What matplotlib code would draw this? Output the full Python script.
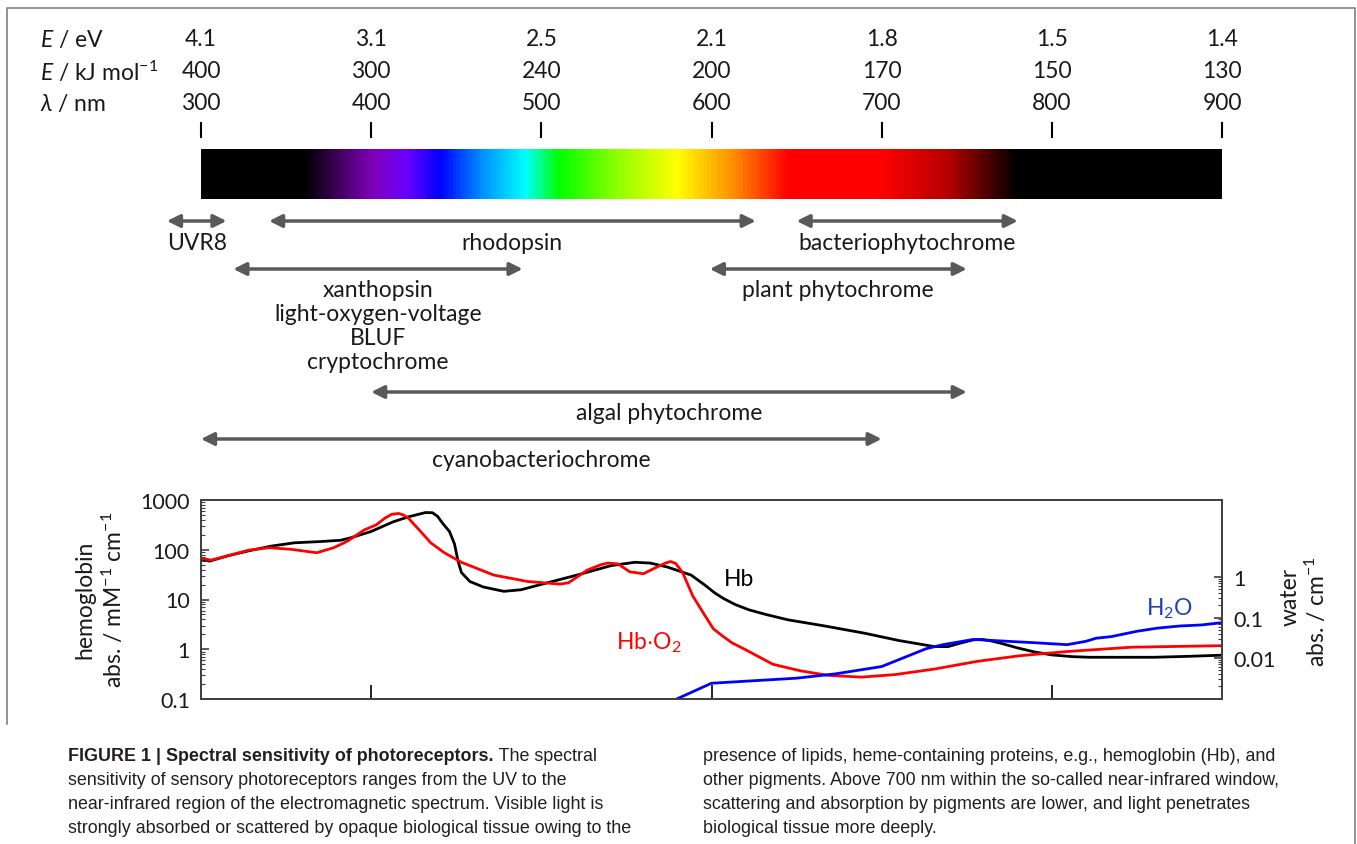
import numpy as np
import matplotlib
matplotlib.use("Agg")
import matplotlib.pyplot as plt
from matplotlib.colors import LinearSegmentedColormap
from matplotlib.ticker import FixedLocator, NullFormatter, FixedFormatter

plt.rcParams['font.family'] = ['Lato', 'DejaVu Sans']
plt.rcParams['mathtext.fontset'] = 'custom'
plt.rcParams['mathtext.rm'] = 'Lato'
plt.rcParams['mathtext.it'] = 'Lato:italic'
plt.rcParams['mathtext.bf'] = 'Lato:bold'

# energy / wavelength scale
scale_nm = [300, 400, 500, 600, 700, 800, 900]
scale_ev = ['4.1', '3.1', '2.5', '2.1', '1.8', '1.5', '1.4']
scale_kj = ['400', '300', '240', '200', '170', '150', '130']

# photoreceptor ranges (nm)
photo_names = ['UVR8', 'rhodopsin', 'bacteriophytochrome',
               'xanthopsin\nlight-oxygen-voltage\nBLUF\ncryptochrome',
               'plant phytochrome', 'algal phytochrome', 'cyanobacteriochrome']
photo_lo = [280, 340, 650, 319, 599, 400, 300]
photo_hi = [315, 626, 780, 489, 750, 750, 700]
photo_row = [222, 222, 222, 270, 270, 393, 440]

# spectrum colour stops
spec_nm = [300, 360, 400, 420, 440, 465, 490, 510, 545, 580, 612, 645, 700, 740, 780, 900]
spec_col = ['#000000', '#000000', '#8000b8', '#6a00ff', '#0000ff', '#0092ff', '#00ffff',
            '#00ff00', '#92ff00', '#ffff00', '#ff9200', '#ff0000', '#ff0000', '#b50000',
            '#000000', '#000000']

# deoxyhemoglobin, mM-1 cm-1
hb_nm = [300, 305, 316, 328, 341, 355, 370, 382, 388, 400, 413, 422, 432, 436, 439, 442,
         446, 449, 451, 453, 458, 466, 478, 488, 502, 521, 541, 555, 564, 574, 588, 596,
         602, 607, 614, 622, 632, 645, 665, 690, 710, 731, 739, 747, 754, 759, 764, 770,
         780, 790, 800, 812, 822, 840, 860, 880, 900]
hb = [65, 59, 76, 95, 118, 138, 146, 155, 174, 233, 365, 460, 560, 555, 470, 340,
      233, 130, 60, 35, 23, 17.8, 14.6, 15.7, 21, 31, 48, 56, 54, 45, 31, 19.6,
      13.5, 10.5, 7.9, 6.2, 5.0, 3.9, 3.0, 2.1, 1.5, 1.13, 1.13, 1.35, 1.55, 1.57, 1.48, 1.32,
      1.06, 0.88, 0.77, 0.71, 0.69, 0.69, 0.69, 0.72, 0.76]

# oxyhemoglobin, mM-1 cm-1
hbo2_nm = [300, 306, 316, 328, 340, 353, 368, 378, 386, 396, 403, 408, 412, 416, 419, 422,
           429, 435, 443, 453, 472, 492, 511, 516, 527, 535, 539, 545, 552, 560, 568, 573,
           576, 579, 583, 589, 595, 601, 606, 612, 620, 628, 636, 652, 668, 688, 708, 731,
           756, 781, 809, 847, 900]
hbo2 = [67, 62, 76, 98, 110, 102, 87, 110, 148, 251, 316, 430, 515, 537, 500, 427,
        234, 138, 87, 56, 31, 23, 20.4, 21.7, 39, 50, 54, 52, 36, 33, 45, 54,
        58, 53, 35, 11.8, 5.5, 2.6, 1.9, 1.35, 0.98, 0.7, 0.5, 0.37, 0.30, 0.275, 0.31, 0.40,
        0.57, 0.74, 0.90, 1.10, 1.18]

# water, cm-1
h2o_nm = [580, 600, 650, 673, 700, 726, 736, 754, 774, 790, 809, 820, 826, 835, 850, 862, 875, 888, 900]
h2o = [0.0010, 0.0024, 0.0032, 0.0041, 0.0062, 0.017, 0.0215, 0.029, 0.026, 0.024, 0.0215,
       0.026, 0.031, 0.034, 0.046, 0.055, 0.062, 0.066, 0.075]

nir_lo, nir_hi = 721, 900

W, H = 1357, 845
fig = plt.figure(figsize=(W / 100, H / 100), dpi=100)
bg = fig.add_axes([0, 0, 1, 1])
bg.set_xlim(0, W)
bg.set_ylim(H, 0)
bg.axis('off')


def nm2px(nm):
    return 201 + (np.asarray(nm, dtype=float) - 300) * 1021 / 600


# frame of the figure panel
bg.plot([7, 7, 1355, 1355], [725, 9, 9, H], color='#7f7f7f', lw=1.2)

fs = 16.5
tc = '#1a1a1a'
# scale rows
bg.text(40, 40, '$E$ / eV', fontsize=fs, va='center', color=tc)
bg.text(40, 72, '$E$ / kJ mol$^{-1}$', fontsize=fs, va='center', color=tc)
bg.text(40, 104, r'$\lambda$ / nm', fontsize=fs, va='center', color=tc)
for nm, ev, kj in zip(scale_nm, scale_ev, scale_kj):
    x = nm2px(nm)
    bg.text(x, 40, ev, fontsize=fs, ha='center', va='center', color=tc)
    bg.text(x, 72, kj, fontsize=fs, ha='center', va='center', color=tc)
    bg.text(x, 104, str(nm), fontsize=fs, ha='center', va='center', color=tc)
    bg.plot([x, x], [124, 138], color='black', lw=1.5)

# spectrum bar
pos = [(n - 300) / 600 for n in spec_nm]
cmap = LinearSegmentedColormap.from_list('spec', list(zip(pos, spec_col)))
grad = np.linspace(0, 1, 1200)[None, :]
bg.imshow(grad, cmap=cmap, extent=(nm2px(300), nm2px(900), 200, 150), aspect='auto')

# photoreceptor ranges
ac = '#595959'
for name, lo, hi, y in zip(photo_names, photo_lo, photo_hi, photo_row):
    bg.annotate('', xy=(nm2px(hi), y), xytext=(nm2px(lo), y),
                arrowprops=dict(arrowstyle='<|-|>', color=ac, lw=2.5,
                                mutation_scale=19, shrinkA=0, shrinkB=0))
    xm = (nm2px(lo) + nm2px(hi)) / 2
    for i, line in enumerate(name.split('\n')):
        bg.text(xm, y + 21 + 24 * i, line, fontsize=fs, ha='center', va='center', color=tc)

# absorption plot
ax = fig.add_axes([201 / W, (H - 700) / H, 1021 / W, 199 / H])
ax.set_yscale('log')
ax.set_xlim(300, 900)
ax.set_ylim(0.1, 1000)
ax.plot(hb_nm, hb, color='black', lw=2)
ax.plot(hbo2_nm, hbo2, color='#ff0000', lw=2)

ax2 = ax.twinx()
ax2.set_yscale('log')
ax2.set_ylim(0.00098, 80)
ax2.plot(h2o_nm, h2o, color='#0000ff', lw=2)

sc = '#404040'
for a in (ax, ax2):
    for s in a.spines.values():
        s.set_color(sc)
        s.set_linewidth(1.3)
ax.set_xticks([400, 600, 800])
ax.set_xticklabels([])
ax.tick_params(axis='x', direction='in', length=10, width=1.2, color='black')
ax.set_yticks([0.1, 1, 10, 100, 1000])
ax.set_yticklabels(['0.1', '1', '10', '100', '1000'])
ax.tick_params(axis='y', which='major', direction='in', length=6, width=1.2,
               color=sc, labelsize=15.5, pad=8, labelcolor=tc)
ax.tick_params(axis='y', which='minor', direction='in', length=3, width=0.8, color=sc)

ax2.yaxis.set_major_locator(FixedLocator([0.001, 0.01, 0.1, 1]))
ax2.yaxis.set_major_formatter(FixedFormatter(['', '0.01', '0.1', '1']))
minor = [k * 10.0 ** e for e in (-3, -2, -1) for k in range(2, 10)]
ax2.yaxis.set_minor_locator(FixedLocator(minor))
ax2.yaxis.set_minor_formatter(NullFormatter())
ax2.tick_params(axis='y', which='major', direction='in', length=6, width=1.2,
                color=sc, labelsize=15.5, pad=8, labelcolor=tc)
ax2.tick_params(axis='y', which='minor', direction='in', length=3, width=0.8, color=sc)

# curve labels
ax.text(616, 26, 'Hb', fontsize=fs, ha='center', va='center', color='black')
ax.text(563, 1.4, r'Hb$\cdot$O$_2$', fontsize=fs, ha='center', va='center', color='#ff0000')
ax.text(869, 6.8, 'H$_2$O', fontsize=fs, ha='center', va='center', color='#1f3fbf')

# near-IR window
bg.annotate('', xy=(nm2px(nir_hi), 512), xytext=(nm2px(nir_lo), 512),
            arrowprops=dict(arrowstyle='<|-|>', color=ac, lw=2.5,
                            mutation_scale=19, shrinkA=0, shrinkB=0))
bg.text((nm2px(nir_lo) + nm2px(nir_hi)) / 2 - 12, 531, 'near-IR window', fontsize=fs,
        ha='center', va='center', color='#555555')

# axis titles
bg.text(85, 600, 'hemoglobin', fontsize=fs, rotation=90, ha='center', va='center', color=tc)
bg.text(113, 600, 'abs. / mM$^{-1}$ cm$^{-1}$', fontsize=fs, rotation=90,
        ha='center', va='center', color=tc)
bg.text(1290, 597, 'water', fontsize=fs, rotation=90, ha='center', va='center', color=tc)
bg.text(1316, 612, 'abs. / cm$^{-1}$', fontsize=fs, rotation=90, ha='center', va='center', color=tc)

# caption
cfs = 12.9
cap_c = '#231f20'
cap_font = ['Liberation Sans', 'DejaVu Sans']
left_lines = [' The spectral',
              'sensitivity of sensory photoreceptors ranges from the UV to the',
              'near-infrared region of the electromagnetic spectrum. Visible light is',
              'strongly absorbed or scattered by opaque biological tissue owing to the']
right_lines = ['presence of lipids, heme-containing proteins, e.g., hemoglobin (Hb), and',
               'other pigments. Above 700 nm within the so-called near-infrared window,',
               'scattering and absorption by pigments are lower, and light penetrates',
               'biological tissue more deeply.']
line_y = [757, 781, 805, 829]
r = fig.canvas.get_renderer()
t0 = bg.text(68, line_y[0], 'FIGURE 1 | Spectral sensitivity of photoreceptors.', fontsize=cfs,
             fontweight='bold', family=cap_font, va='center', color=cap_c)
bb = t0.get_window_extent(renderer=r)
bg.text(bb.x1, line_y[0], left_lines[0], fontsize=cfs, family=cap_font, va='center', color=cap_c)
for line, y in zip(left_lines[1:], line_y[1:]):
    bg.text(68, y, line, fontsize=cfs, family=cap_font, va='center', color=cap_c)
for line, y in zip(right_lines, line_y):
    bg.text(703, y, line, fontsize=cfs, family=cap_font, va='center', color=cap_c)

fig.savefig('out.png', dpi=100)
